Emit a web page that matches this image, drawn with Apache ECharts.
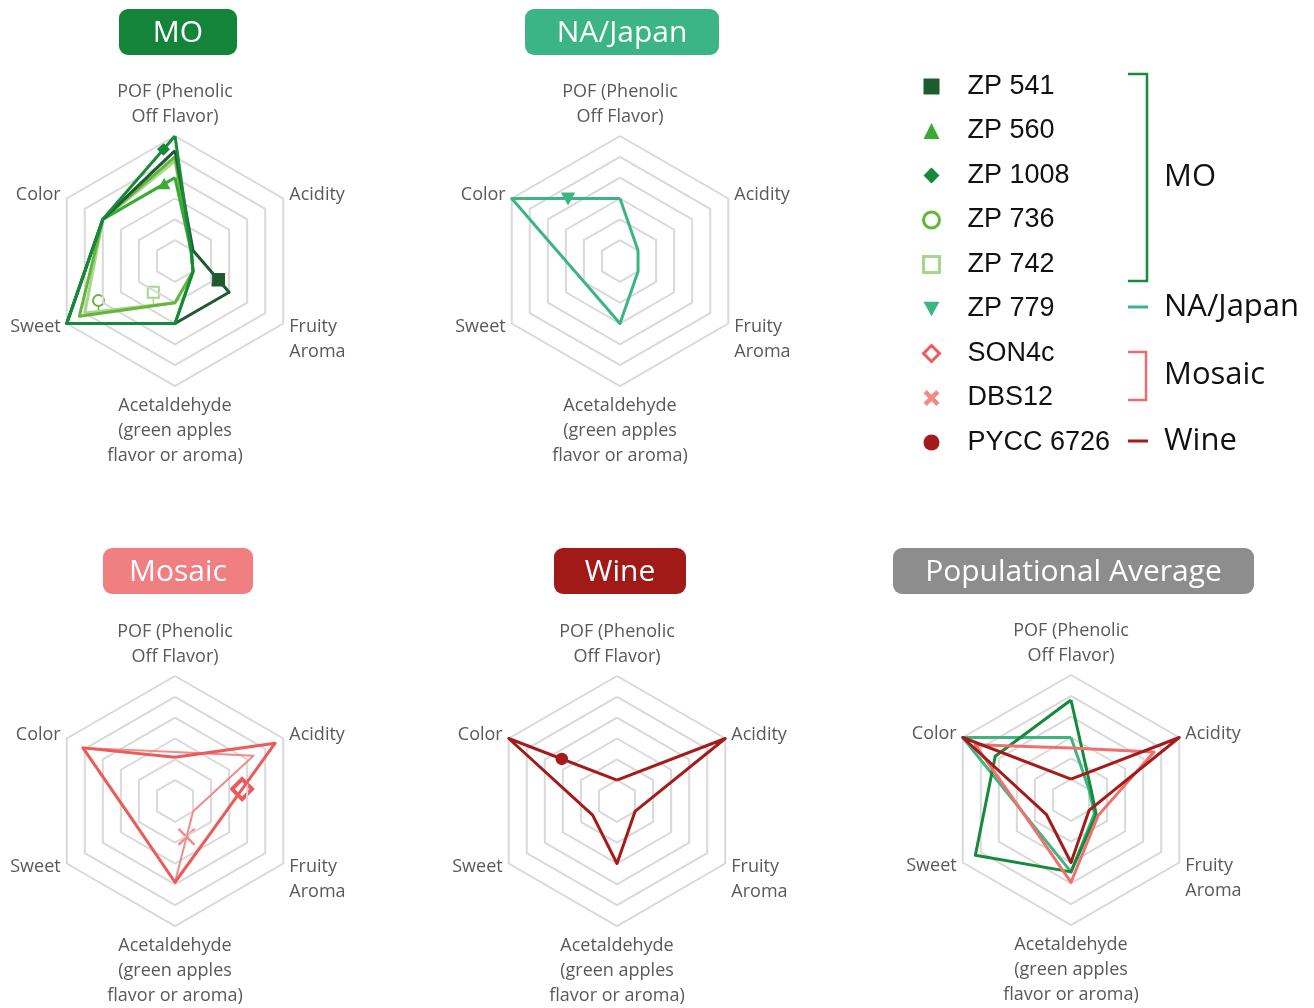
<!DOCTYPE html>
<html>
<head>
<meta charset="utf-8">
<script src="https://cdn.jsdelivr.net/npm/echarts@6/dist/echarts.min.js"></script>
<style>
  html, body { margin: 0; padding: 0; background: #ffffff; }
  #chart { width: 1314px; height: 1008px; }
</style>
</head>
<body>
<div id="chart"></div>
<script>
// Sensory attributes, listed counter-clockwise starting at the top axis
const attributes = [
  'POF (Phenolic\nOff Flavor)',
  'Color',
  'Sweet',
  'Acetaldehyde\n(green apples\nflavor or aroma)',
  'Fruity\nAroma',
  'Acidity'
];
const scaleMax = 6;

// Strain scores, in attribute order: POF, Color, Sweet, Acetaldehyde, Fruity Aroma, Acidity
const zp541    = [5.3, 4.0, 6.0, 3.0, 3.0, 1.0];
const zp560    = [4.0, 4.0, 6.0, 3.0, 1.0, 0.9];
const zp1008   = [6.0, 4.0, 6.0, 3.0, 1.0, 0.9];
const zp736    = [5.0, 4.0, 5.3, 2.0, 1.0, 0.9];
const zp742    = [4.8, 4.0, 5.0, 2.0, 1.0, 0.9];
const zp779    = [3.0, 6.0, 2.0, 3.0, 1.0, 1.0];
const son4c    = [2.1, 5.1, 2.2, 3.9, 2.3, 5.55];
const dbs12    = [2.35, 5.1, 2.2, 3.9, 1.0, 4.35];
const pycc6726 = [1.0, 6.0, 1.35, 3.0, 1.0, 6.0];

// Group averages
const avgMO       = [4.8, 4.2, 5.3, 3.45, 1.4, 1.1];
const avgNAJapan  = [3.0, 6.0, 2.2, 3.45, 1.3, 1.0];
const avgMosaic   = [2.5, 5.3, 2.25, 3.95, 1.5, 4.6];
const avgWine     = [1.0, 6.0, 1.37, 3.0, 1.0, 6.0];

// Palette
const C = {
  zp541: '#1e5c30', zp560: '#3aaa35', zp1008: '#168a3a', zp736: '#62b73a', zp742: '#a8d68e',
  zp779: '#3cb583', son4c: '#ec5a5a', dbs12: '#f28a8a', pycc: '#a31b1b',
  mosaicAvg: '#f07070'
};

// Layout of the five radar panels
const RADIUS = 125;
const panels = [
  { title: 'MO',                   box: [119, 9, 118, 46],   fill: '#13843a', center: [175, 261] },
  { title: 'NA/Japan',             box: [525, 9, 194, 46],   fill: '#3bb585', center: [620, 261] },
  { title: 'Mosaic',               box: [103, 548, 150, 46], fill: '#f07f82', center: [175, 801] },
  { title: 'Wine',                 box: [554, 548, 132, 46], fill: '#a21a17', center: [617, 801] },
  { title: 'Populational Average', box: [893, 548, 361, 46], fill: '#8c8d8c', center: [1071, 800] }
];

// Polygons per panel (drawn in this order)
const seriesDefs = [
  { radar: 0, name: 'ZP 742',  values: zp742,  color: C.zp742,  width: 3 },
  { radar: 0, name: 'ZP 736',  values: zp736,  color: C.zp736,  width: 3 },
  { radar: 0, name: 'ZP 560',  values: zp560,  color: C.zp560,  width: 3 },
  { radar: 0, name: 'ZP 541',  values: zp541,  color: C.zp541,  width: 3 },
  { radar: 0, name: 'ZP 1008', values: zp1008, color: C.zp1008, width: 3 },
  { radar: 1, name: 'ZP 779',  values: zp779,  color: C.zp779,  width: 3 },
  { radar: 2, name: 'DBS12',   values: dbs12,  color: C.dbs12,  width: 2 },
  { radar: 2, name: 'SON4c',   values: son4c,  color: C.son4c,  width: 3 },
  { radar: 3, name: 'PYCC 6726', values: pycc6726, color: C.pycc, width: 3 },
  { radar: 4, name: 'NA/Japan average', values: avgNAJapan, color: C.zp779, width: 3 },
  { radar: 4, name: 'MO average',       values: avgMO,      color: C.zp1008, width: 3 },
  { radar: 4, name: 'Mosaic average',   values: avgMosaic,  color: C.mosaicAvg, width: 3 },
  { radar: 4, name: 'Wine average',     values: avgWine,    color: C.pycc, width: 3 }
];

// Strain markers, placed part-way along one edge of the strain's polygon
const markers = [
  { series: 'ZP 541',  from: 5, to: 4, t: 0.70, shape: 'square',   size: 15, color: C.zp541 },
  { series: 'ZP 560',  from: 1, to: 0, t: 0.85, shape: 'triangle', size: 15, color: C.zp560 },
  { series: 'ZP 1008', from: 1, to: 0, t: 0.84, shape: 'diamond',  size: 15, color: C.zp1008 },
  { series: 'ZP 736',  from: 2, to: 3, t: 0.20, shape: 'circle',   size: 11, color: C.zp736, hollow: true, lift: 13 },
  { series: 'ZP 742',  from: 2, to: 3, t: 0.76, shape: 'square',   size: 11, color: C.zp742, hollow: true, lift: 13 },
  { series: 'ZP 779',  from: 1, to: 0, t: 0.52, shape: 'triangleDown', size: 17, color: C.zp779 },
  { series: 'SON4c',   from: 5, to: 3, t: 0.33, shape: 'diamond',  size: 20, color: C.son4c, hollow: true, stroke: 4 },
  { series: 'DBS12',   from: 4, to: 3, t: 0.36, shape: 'cross',    size: 16, color: C.dbs12 },
  { series: 'PYCC 6726', from: 1, to: 0, t: 0.49, shape: 'circle', size: 14, color: C.pycc }
];

// Legend icons
const crossPath = 'path://M2,0L5,3L8,0L10,2L7,5L10,8L8,10L5,7L2,10L0,8L3,5L0,2Z';
const legendItems = [
  { name: 'ZP 541',  icon: 'rect',     itemStyle: { color: C.zp541, borderWidth: 0 } },
  { name: 'ZP 560',  icon: 'triangle', itemStyle: { color: C.zp560, borderWidth: 0 } },
  { name: 'ZP 1008', icon: 'diamond',  itemStyle: { color: C.zp1008, borderWidth: 0 } },
  { name: 'ZP 736',  icon: 'circle',   itemStyle: { color: '#ffffff', borderColor: C.zp736, borderWidth: 3 } },
  { name: 'ZP 742',  icon: 'rect',     itemStyle: { color: '#ffffff', borderColor: C.zp742, borderWidth: 3 } },
  { name: 'ZP 779',  icon: 'path://M0,0L10,0L5,9Z', itemStyle: { color: C.zp779, borderWidth: 0 } },
  { name: 'SON4c',   icon: 'diamond',  itemStyle: { color: '#ffffff', borderColor: C.son4c, borderWidth: 3 } },
  { name: 'DBS12',   icon: crossPath,  itemStyle: { color: C.dbs12, borderWidth: 0 } },
  { name: 'PYCC 6726', icon: 'circle', itemStyle: { color: C.pycc, borderWidth: 0 } }
];

const chart = echarts.init(document.getElementById('chart'), null, { renderer: 'canvas' });

const radars = panels.map(p => ({
  center: p.center,
  radius: RADIUS,
  startAngle: 90,
  shape: 'polygon',
  splitNumber: 6,
  nameGap: 7,
  indicator: attributes.map(n => ({ name: n, min: 0, max: scaleMax })),
  axisName: {
    color: '#595959',
    fontFamily: 'Open Sans',
    fontSize: 18,
    lineHeight: 25,
    // the fruity label hangs below its axis end
    formatter: name => (name.indexOf('Fruity') === 0 ? '\n' + name : name)
  },
  splitLine: { lineStyle: { color: '#d9d9d9', width: 2 } },
  splitArea: { show: false },
  axisLine: { show: false },
  axisTick: { show: false },
  axisLabel: { show: false }
}));

const series = seriesDefs.map(s => ({
  type: 'radar',
  radarIndex: s.radar,
  symbol: 'none',
  silent: true,
  lineStyle: { color: s.color, width: s.width },
  itemStyle: { color: s.color },
  data: [{ name: s.name, value: s.values }]
}));

// Group brackets beside the legend
const labelFont = '31px "Open Sans"';
const bracketGraphics = [
  { type: 'polyline', shape: { points: [[1128, 74], [1147, 74], [1147, 281], [1128, 281]] }, style: { stroke: '#1a8a3c', lineWidth: 2.5, fill: null } },
  { type: 'text', style: { text: 'MO', x: 1164, y: 177, fill: '#111111', font: labelFont, verticalAlign: 'middle', align: 'left' } },
  { type: 'line', shape: { x1: 1128, y1: 307, x2: 1148, y2: 307 }, style: { stroke: C.zp779, lineWidth: 3 } },
  { type: 'text', style: { text: 'NA/Japan', x: 1164, y: 307, fill: '#111111', font: labelFont, verticalAlign: 'middle', align: 'left' } },
  { type: 'polyline', shape: { points: [[1128, 352], [1146, 352], [1146, 400], [1128, 400]] }, style: { stroke: '#ef6b6b', lineWidth: 2.5, fill: null } },
  { type: 'text', style: { text: 'Mosaic', x: 1164, y: 375, fill: '#111111', font: labelFont, verticalAlign: 'middle', align: 'left' } },
  { type: 'line', shape: { x1: 1128, y1: 441, x2: 1148, y2: 441 }, style: { stroke: C.pycc, lineWidth: 3 } },
  { type: 'text', style: { text: 'Wine', x: 1164, y: 441, fill: '#111111', font: labelFont, verticalAlign: 'middle', align: 'left' } }
];

// Panel title badges
const titleGraphics = panels.map(p => ({
  type: 'group',
  children: [
    { type: 'rect', shape: { x: p.box[0], y: p.box[1], width: p.box[2], height: p.box[3], r: 9 }, style: { fill: p.fill } },
    { type: 'text', style: { text: p.title, x: p.box[0] + p.box[2] / 2, y: p.box[1] + p.box[3] / 2 + 1, fill: '#ffffff', font: '30px "Open Sans"', align: 'center', verticalAlign: 'middle' } }
  ]
}));

chart.setOption({
  animation: false,
  backgroundColor: '#ffffff',
  textStyle: { fontFamily: 'Open Sans' },
  radar: radars,
  legend: {
    data: legendItems,
    orient: 'vertical',
    left: 917,
    top: 68,
    itemWidth: 16,
    itemHeight: 16,
    itemGap: 17.5,
    selectedMode: false,
    formatter: name => '{pad|}{t|' + name + '}',
    textStyle: {
      rich: {
        pad: { width: 23 },
        t: { fontFamily: 'Liberation Sans', fontSize: 27, color: '#111111' }
      }
    }
  },
  series: series,
  graphic: titleGraphics.concat(bracketGraphics)
});

// Pixel position of a value on an indicator axis of a radar
function pointOf(radarIdx, value, ind) {
  try {
    const cs = chart.getModel().getComponent('radar', radarIdx).coordinateSystem;
    const pt = cs.dataToPoint(value, ind);
    if (pt && isFinite(pt[0]) && isFinite(pt[1])) return pt;
  } catch (e) { /* fall back to plain geometry */ }
  const p = panels[radarIdx];
  const ang = Math.PI / 2 + ind * 2 * Math.PI / attributes.length;
  const r = value / scaleMax * RADIUS;
  return [p.center[0] + r * Math.cos(ang), p.center[1] - r * Math.sin(ang)];
}

function markerGraphic(m) {
  const def = seriesDefs.find(s => s.name === m.series);
  const a = pointOf(def.radar, def.values[m.from], m.from);
  const b = pointOf(def.radar, def.values[m.to], m.to);
  const bx = a[0] + (b[0] - a[0]) * m.t;
  const by = a[1] + (b[1] - a[1]) * m.t;
  const x = bx, y = by - (m.lift || 0);
  const h = m.size / 2;
  const fill = m.hollow ? '#ffffff' : m.color;
  const stroke = m.hollow ? m.color : '#ffffff';
  const lw = m.hollow ? (m.stroke || 2) : 1.5;
  const style = { fill: fill, stroke: stroke, lineWidth: lw };
  const kids = [];
  if (m.lift) {
    kids.push({ type: 'line', shape: { x1: bx, y1: by, x2: x, y2: y + h }, style: { stroke: m.color, lineWidth: 1.5 } });
  }
  let el;
  switch (m.shape) {
    case 'square':
      el = { type: 'rect', shape: { x: x - h, y: y - h, width: m.size, height: m.size }, style };
      break;
    case 'circle':
      el = { type: 'circle', shape: { cx: x, cy: y, r: h }, style };
      break;
    case 'triangle':
      el = { type: 'polygon', shape: { points: [[x, y - h], [x + h, y + h * 0.8], [x - h, y + h * 0.8]] }, style };
      break;
    case 'triangleDown':
      el = { type: 'polygon', shape: { points: [[x - h, y - h * 0.8], [x + h, y - h * 0.8], [x, y + h]] }, style };
      break;
    case 'diamond':
      el = { type: 'polygon', shape: { points: [[x, y - h], [x + h, y], [x, y + h], [x - h, y]] }, style };
      break;
    case 'cross':
      el = { type: 'group', children: [
        { type: 'line', shape: { x1: x - h, y1: y - h, x2: x + h, y2: y + h }, style: { stroke: m.color, lineWidth: 2.5 } },
        { type: 'line', shape: { x1: x + h, y1: y - h, x2: x - h, y2: y + h }, style: { stroke: m.color, lineWidth: 2.5 } }
      ] };
      break;
  }
  kids.push(el);
  return { type: 'group', z: 50, children: kids };
}

chart.setOption({
  graphic: titleGraphics.concat(bracketGraphics, markers.map(markerGraphic))
});
</script>
</body>
</html>
